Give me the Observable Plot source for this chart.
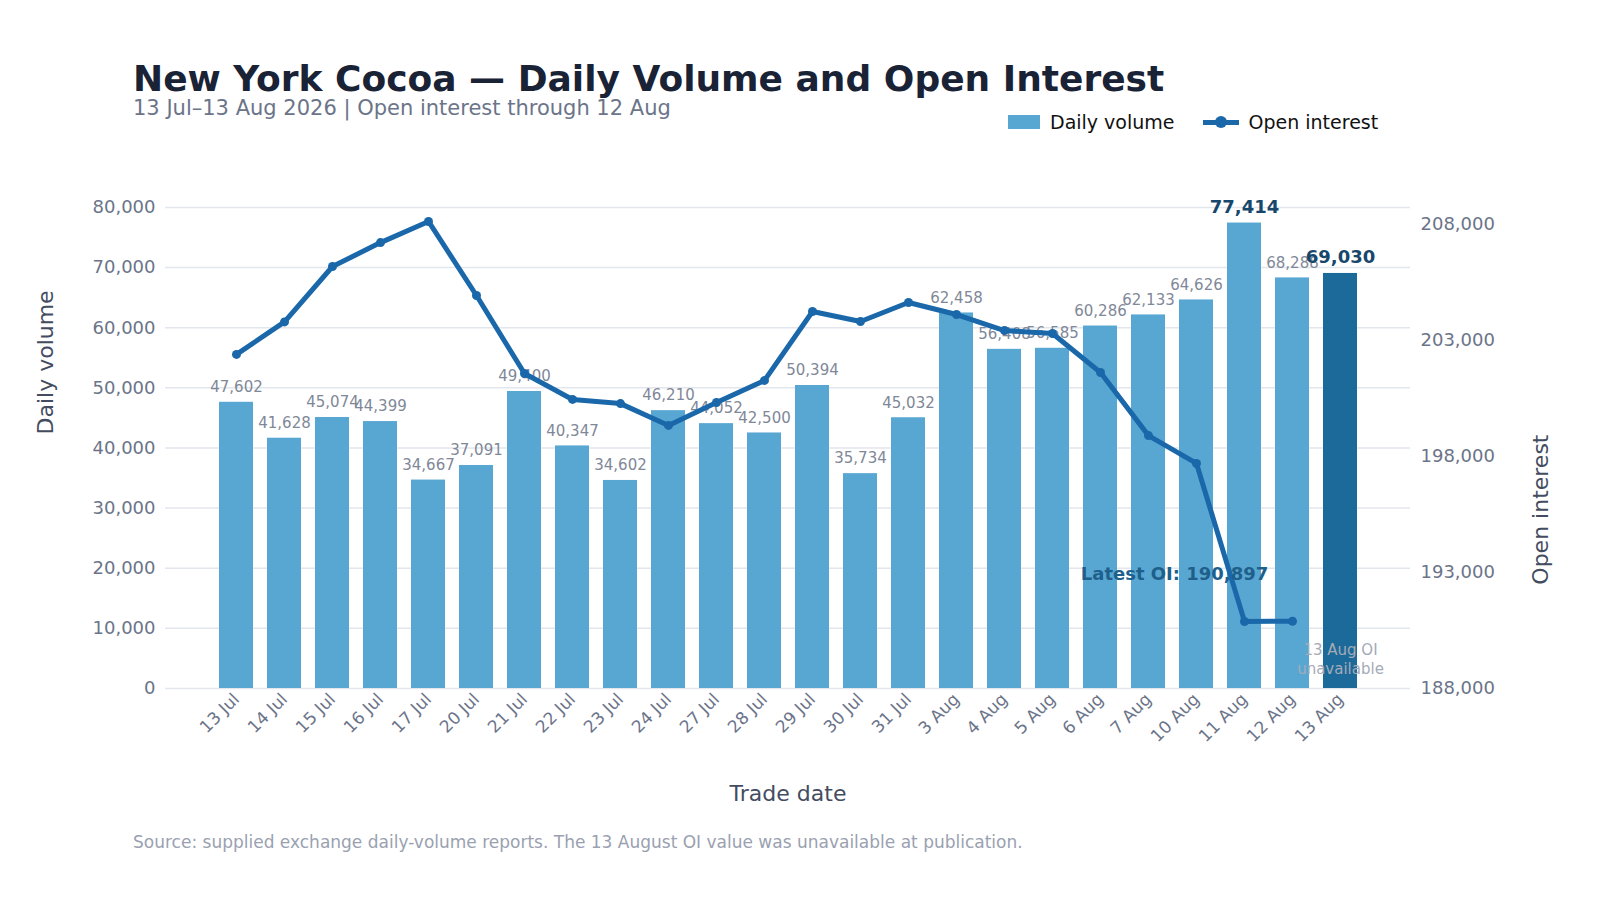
<!DOCTYPE html><html><head><meta charset="utf-8">
<script src="https://cdn.jsdelivr.net/npm/d3@7"></script>
<script src="https://cdn.jsdelivr.net/npm/@observablehq/plot@0.6"></script>
<style>html,body{margin:0;background:#fff;font-family:"DejaVu Sans",sans-serif;overflow:hidden;width:1600px;height:900px}#w{position:relative;width:1600px;height:900px;overflow:hidden}
.a{position:absolute;white-space:nowrap}</style></head><body><div id="w">
<div class="a" style="left:133px;top:58px;font-size:36px;line-height:42px;font-weight:bold;color:#1a2236">New York Cocoa — Daily Volume and Open Interest</div>
<div class="a" style="left:133px;top:96px;font-size:21px;line-height:24px;color:#6b7489">13 Jul–13 Aug 2026 | Open interest through 12 Aug</div>
<div class="a" style="left:1008px;top:111px;font-size:19px;color:#111;display:flex;align-items:center;gap:10px">
<span style="display:inline-block;width:32px;height:14px;background:#58a7d2"></span>Daily volume
<span style="display:inline-block;width:36px;height:5px;background:#1a68aa;position:relative;margin-left:18px"><span style="position:absolute;left:12px;top:-4px;width:12px;height:12px;border-radius:6px;background:#1a68aa"></span></span>Open interest</div>
<div class="a" style="left:133px;top:832px;font-size:17px;color:#9aa1b0">Source: supplied exchange daily-volume reports. The 13 August OI value was unavailable at publication.</div>
<div id="c" style="position:absolute;left:0;top:0;width:1600px;height:900px;overflow:hidden"></div></div>
<script>
const dates=["13 Jul","14 Jul","15 Jul","16 Jul","17 Jul","20 Jul","21 Jul","22 Jul","23 Jul","24 Jul","27 Jul","28 Jul","29 Jul","30 Jul","31 Jul","3 Aug","4 Aug","5 Aug","6 Aug","7 Aug","10 Aug","11 Aug","12 Aug","13 Aug"];
const volume=[47602,41628,45074,44399,34667,37091,49400,40347,34602,46210,44052,42500,50394,35734,45032,62458,56408,56585,60286,62133,64626,77414,68288,69030];
const openInterest=[202400,203800,206190,207220,208130,204940,201580,200460,200280,199340,200330,201280,204250,203820,204640,204120,203430,203300,201620,198900,197700,190890,190897,null];
const leftTicks=[0,10000,20000,30000,40000,50000,60000,70000,80000];
const rightTicks=[188000,193000,198000,203000,208000];
const OI0=188000,K=3.8586;
const toY=v=>(v-OI0)*K;
const bars=dates.map((d,i)=>({d,v:volume[i],hl:i===23,big:i===21||i===23}));
const line=dates.map((d,i)=>({d,oi:openInterest[i]})).filter(r=>r.oi!=null);
const p=Plot.plot({width:1600,height:900,marginLeft:165,marginRight:190,marginTop:180,marginBottom:212,
style:{fontFamily:"DejaVu Sans",fontSize:"17px",color:"#6b7489",overflow:"hidden"},
x:{domain:dates,paddingInner:0.3,paddingOuter:1,label:null},
y:{domain:[0,84490],label:null},
marks:[
Plot.ruleY(leftTicks,{stroke:"#e3e6ec",strokeWidth:1.5}),
Plot.barY(bars,{x:"d",y:"v",fill:d=>d.hl?"#1b6a99":"#58a7d2"}),
Plot.text(bars.filter(b=>!b.big),{x:"d",y:"v",text:b=>d3.format(",")(b.v),dy:-15,fill:"#7f8898",fontSize:15}),
Plot.text(bars.filter(b=>b.big),{x:"d",y:"v",text:b=>d3.format(",")(b.v),dy:-16,fill:"#17476b",fontSize:18,fontWeight:"bold"}),
Plot.line(line,{x:"d",y:d=>toY(d.oi),stroke:"#1a68aa",strokeWidth:5}),
Plot.dot(line,{x:"d",y:d=>toY(d.oi),fill:"#1a68aa",r:4.5}),
Plot.text(["Latest OI: 190,897"],{x:()=>"10 Aug",y:()=>19000,dx:-22,fill:"#1f5f8b",fontWeight:"bold",fontSize:18}),
Plot.text(["13 Aug OI\nunavailable"],{x:()=>"13 Aug",y:()=>5000,fill:"#a4abb8",fontSize:15,lineHeight:1.3}),
Plot.axisY({ticks:leftTicks,tickFormat:d3.format(","),tickSize:0,tickPadding:10,fontSize:18,label:null}),
Plot.axisY({anchor:"right",ticks:rightTicks.map(toY),tickFormat:(v,i)=>d3.format(",")(rightTicks[i]),tickSize:0,tickPadding:10,fontSize:18,label:null}),
Plot.axisX({tickRotate:-45,tickSize:0,tickPadding:8,fontSize:17,label:null}),
Plot.text(["Daily volume"],{frameAnchor:"left",dx:-120,rotate:-90,fontSize:22,fill:"#434c60"}),
Plot.text(["Open interest"],{frameAnchor:"right",dx:130,rotate:-90,fontSize:22,fill:"#434c60"}),
Plot.text(["Trade date"],{frameAnchor:"bottom",dy:112,fontSize:22,fill:"#434c60"})
]});
document.getElementById("c").appendChild(p);
</script></body></html>
